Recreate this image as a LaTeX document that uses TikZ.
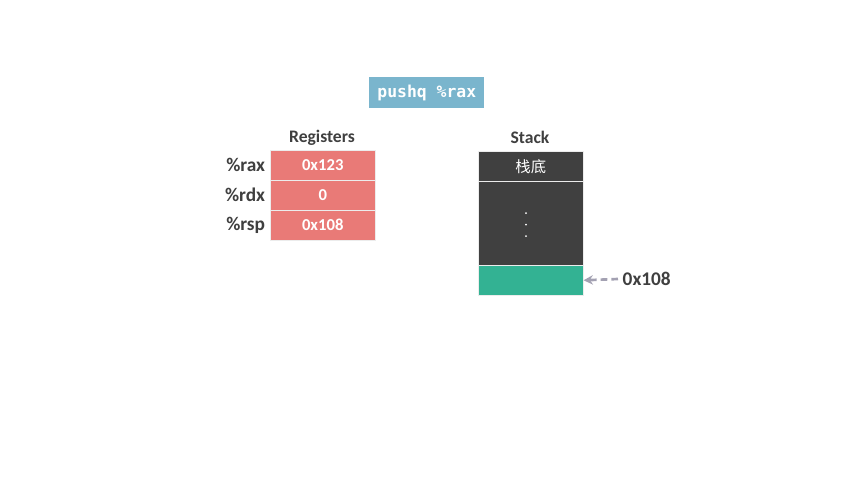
\documentclass[tikz,border=0pt]{standalone}
\usepackage{fontspec}
\usetikzlibrary{arrows.meta}
\setmainfont{Carlito}
\setmonofont{DejaVu Sans Mono}
\newfontfamily\cjk{Noto Sans CJK SC}
\definecolor{cmdblue}{HTML}{7AB5CD}
\definecolor{regred}{HTML}{E97A77}
\definecolor{stackgray}{HTML}{404040}
\definecolor{topgreen}{HTML}{33B293}
\definecolor{arrowgray}{HTML}{A3A1B2}
\definecolor{textgray}{HTML}{3F3F3F}
\begin{document}
\begin{tikzpicture}[x=0.75pt,y=-0.75pt,
		regcell/.style={draw=white!85!gray,fill=regred,text=white,font=\bfseries\fontsize{12.5}{14}\selectfont,minimum width=78.75pt,minimum height=22.5pt,inner sep=0pt,anchor=north west},
		stackcell/.style={draw=white!85!gray,fill=stackgray,text=white,minimum width=78.75pt,inner sep=0pt,anchor=north west},
		reglabel/.style={left,inner sep=3.5pt,text=textgray,font=\bfseries\fontsize{14.5}{16}\selectfont},
		title/.style={text=textgray,font=\bfseries\fontsize{13.2}{15}\selectfont}]
				\useasboundingbox (0,0) rectangle (853,480);
				\node [fill=cmdblue,text=white,font=\ttfamily\bfseries\fontsize{12.3}{14}\selectfont,minimum width=86.25pt,minimum height=23.25pt,anchor=north west] (cmd) at (369,77) {pushq \%rax};
				
				% registers
				\node [title] (regtitle) at (322,137.5) {Registers};
				\node [regcell] (rax) at (270,150) {0x123};
				\node [regcell] (rdx) at (270,180) {0};
				\node [regcell] (rsp) at (270,210) {0x108};
				\node [reglabel] (raxname) at (rax.west) {\%rax};
				\node [reglabel] (rdxname) at (rdx.west) {\%rdx};
				\node [reglabel] (rspname) at (rsp.west) {\%rsp};
				
				% stack
				\node [title] (stacktitle) at (530,137.5) {Stack};
				\node [stackcell,minimum height=22.5pt,font=\cjk\fontsize{11.5}{13}\selectfont] (bottom) at (478,151) {栈底};
				\node [stackcell,minimum height=63pt] (middle) at (478,181) {};
				\node [stackcell,fill=topgreen,minimum height=22.5pt] (top) at (478,265) {};
				\fill[white] (526,213) circle [radius=1] (526,224.5) circle [radius=1] (526,236) circle [radius=1];
				\node [right,text=textgray,font=\bfseries\fontsize{14.5}{16}\selectfont] (addr) at (618,279) {0x108};
				\draw [arrowgray,line width=2pt,dash pattern=on 5pt off 3pt,-{Stealth[length=7pt,width=7pt]}] (addr.west) -- (top.east);
			\end{tikzpicture}
\end{document}
